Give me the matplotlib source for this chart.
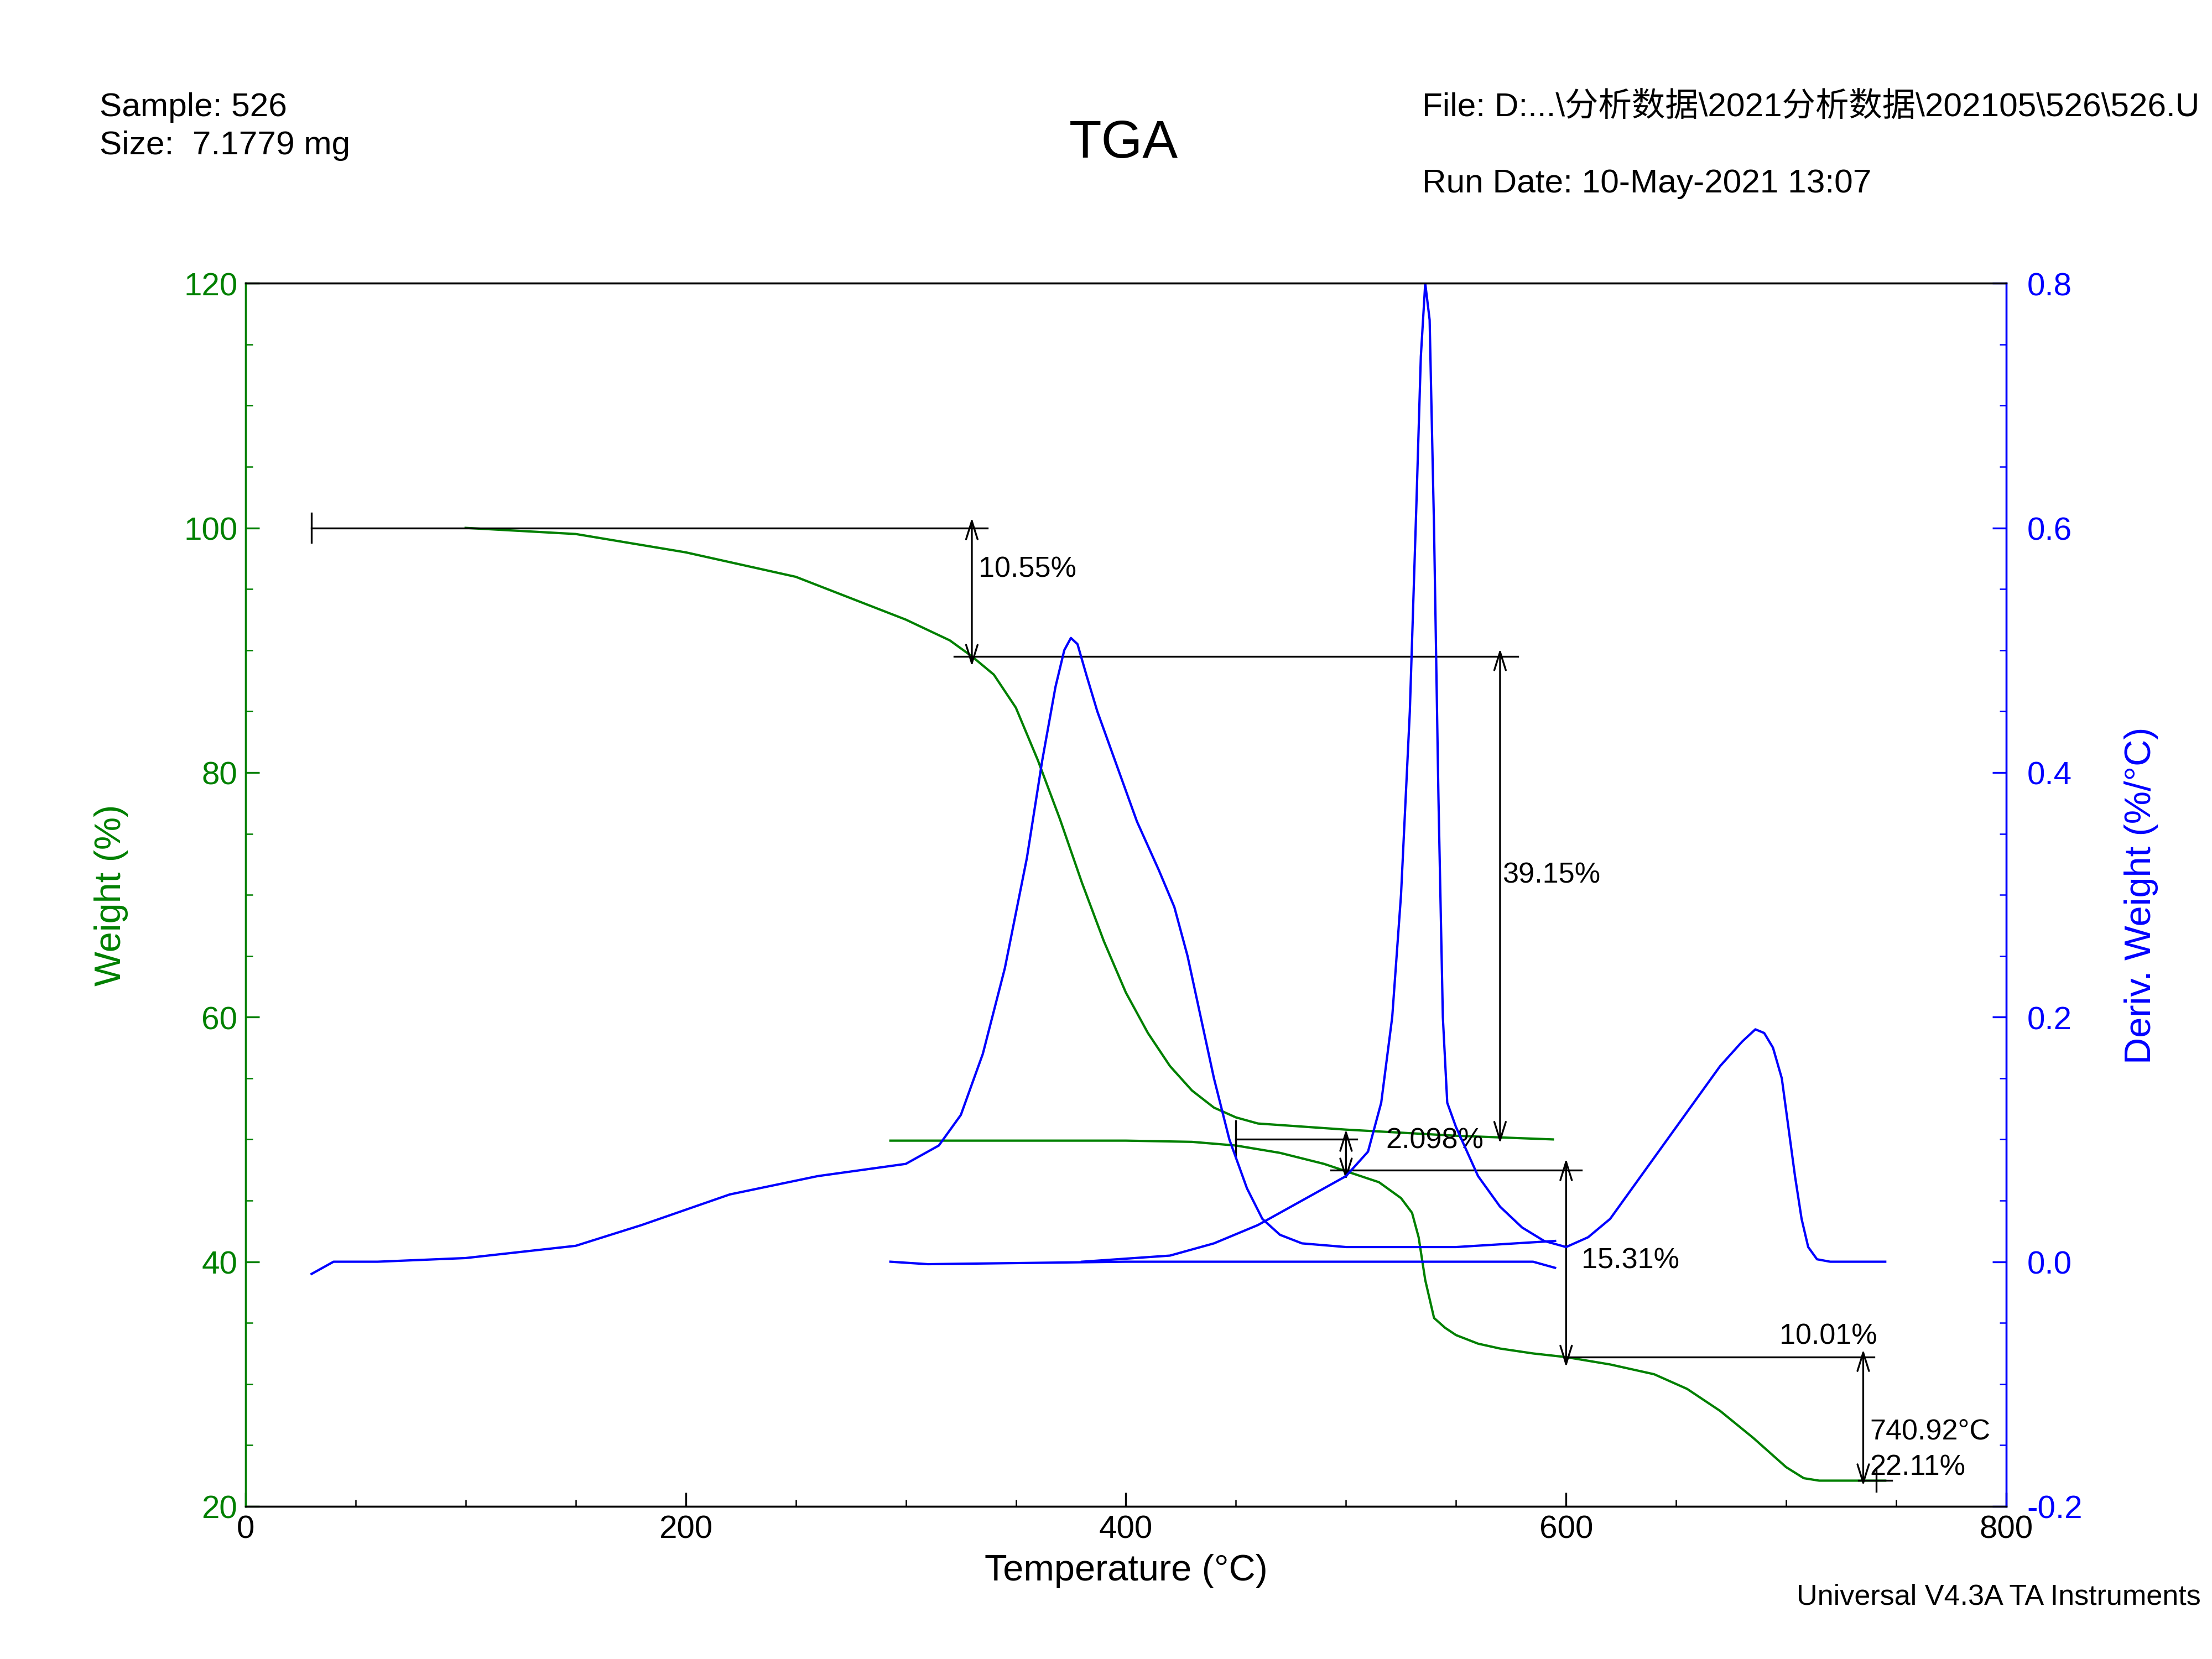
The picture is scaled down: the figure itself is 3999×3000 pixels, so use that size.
import matplotlib
matplotlib.use("Agg")
import matplotlib.pyplot as plt
from matplotlib.ticker import MultipleLocator

plt.rcParams['font.family'] = ['Liberation Sans', 'Noto Sans CJK SC', 'DejaVu Sans']

# Weight curve, run 1
w1_T = [100, 150, 200, 250, 300, 320, 330, 340, 350, 360, 370, 380, 390, 400, 410, 420, 430, 440, 450, 460, 500, 550, 594]
w1_W = [100, 99.5, 98, 96, 92.5, 90.8, 89.5, 88.0, 85.3, 81, 76.2, 71, 66.2, 62, 58.7, 56, 54, 52.6, 51.8, 51.3, 50.8, 50.3, 50]
# Weight curve, run 2
w2_T = [293, 400, 430, 450, 470, 490, 500, 515, 525, 530, 533, 536, 540, 545, 550, 560, 570, 585, 600, 620, 640, 655, 670, 685, 700, 708, 715, 745]
w2_W = [49.9, 49.9, 49.8, 49.5, 48.9, 48.0, 47.4, 46.5, 45.2, 44.0, 42.0, 38.5, 35.4, 34.6, 34.0, 33.3, 32.9, 32.5, 32.2, 31.6, 30.8, 29.6, 27.8, 25.6, 23.2, 22.3, 22.1, 22.1]
# Derivative curve, run 1
d1_T = [30, 35, 40, 60, 100, 150, 180, 220, 260, 300, 315, 325, 335, 345, 355, 362, 368, 372, 375, 378, 382, 387, 395, 405, 415, 422, 428, 434, 440, 447, 455, 462, 470, 480, 500, 550, 595]
d1_D = [-0.01, -0.005, 0, 0, 0.003, 0.013, 0.03, 0.055, 0.07, 0.08, 0.095, 0.12, 0.17, 0.24, 0.33, 0.41, 0.47, 0.5, 0.51, 0.505, 0.48, 0.45, 0.41, 0.36, 0.32, 0.29, 0.25, 0.2, 0.15, 0.1, 0.06, 0.035, 0.022, 0.015, 0.012, 0.012, 0.017]
# Derivative curve, run 2 (baseline)
d2_T = [293, 310, 400, 500, 585, 595]
d2_D = [0, -0.002, 0, 0, 0, -0.005]
# Derivative curve, run 2 (events)
d3_T = [380, 420, 440, 460, 480, 500, 510, 516, 521, 525, 529, 532, 534, 536, 538, 540, 542, 544, 546, 550, 560, 570, 580, 590, 600, 610, 620, 630, 650, 670, 680, 686, 690, 694, 698, 701, 704, 707, 710, 714, 720, 745]
d3_D = [0, 0.005, 0.015, 0.03, 0.05, 0.07, 0.09, 0.13, 0.2, 0.3, 0.45, 0.62, 0.74, 0.8, 0.77, 0.6, 0.38, 0.2, 0.13, 0.11, 0.07, 0.045, 0.028, 0.017, 0.012, 0.02, 0.035, 0.06, 0.11, 0.16, 0.18, 0.19, 0.187, 0.175, 0.15, 0.11, 0.07, 0.035, 0.012, 0.002, 0, 0]

fig = plt.figure(figsize=(13.33, 10.003), dpi=300)
ax = fig.add_axes([0.111, 0.092, 0.796, 0.737])
ax2 = ax.twinx()
G = '#008000'; B = '#0000ff'

ax.plot(w1_T, w1_W, color=G, lw=1)
ax.plot(w2_T, w2_W, color=G, lw=1)
ax2.plot(d1_T, d1_D, color=B, lw=1)
ax2.plot(d2_T, d2_D, color=B, lw=1)
ax2.plot(d3_T, d3_D, color=B, lw=1)

ax.set_xlim(0, 800); ax.set_ylim(20, 120); ax2.set_ylim(-0.2, 0.8)
ax.xaxis.set_major_locator(MultipleLocator(200)); ax.xaxis.set_minor_locator(MultipleLocator(50))
ax.yaxis.set_major_locator(MultipleLocator(20)); ax.yaxis.set_minor_locator(MultipleLocator(5))
ax2.yaxis.set_minor_locator(MultipleLocator(0.05))
ax2.set_yticks([-0.2, 0, 0.2, 0.4, 0.6, 0.8]); ax2.set_yticklabels(['-0.2', '0.0', '0.2', '0.4', '0.6', '0.8'])
for a in (ax, ax2):
    a.tick_params(which='both', direction='in', labelsize=14)
    a.tick_params(which='major', length=6); a.tick_params(which='minor', length=3)
ax.tick_params(axis='y', which='both', colors=G, labelcolor=G)
ax2.tick_params(axis='y', which='both', colors=B, labelcolor=B, pad=9)
ax2.spines['left'].set_color(G); ax2.spines['right'].set_color(B)
ax.spines['left'].set_color(G); ax.spines['right'].set_color(B)
ax.set_xlabel('Temperature (°C)', fontsize=16)
ax.set_ylabel('Weight (%)', fontsize=16, color=G, labelpad=24)
ax2.set_ylabel('Deriv. Weight (%/°C)', fontsize=16, color=B, labelpad=18)

k = dict(color='black', lw=0.8)
def harrow(x, y0, y1):
    ax.annotate('', xy=(x, y1), xytext=(x, y0), arrowprops=dict(arrowstyle='<->,head_width=0.25,head_length=0.8', lw=0.8, color='black'))
ax.plot([30, 337], [100, 100], **k); ax.plot([30, 30], [98.8, 101.2], **k)
harrow(330, 101.2, 88.3)
ax.text(333, 96, '10.55%', fontsize=12.5)
ax.plot([322, 578], [89.5, 89.5], **k)
harrow(570, 90.5, 49.3)
ax.text(571, 71, '39.15%', fontsize=12.5)
ax.plot([450, 505], [50, 50], **k); ax.plot([450, 450], [48.5, 51.5], **k)
harrow(500, 51.2, 46.3)
ax.text(518, 49.3, '2.098%', fontsize=12.5)
ax.plot([493, 607], [47.5, 47.5], **k)
harrow(600, 48.8, 31)
ax.text(607, 39.5, '15.31%', fontsize=12.5)
ax.plot([600, 740], [32.2, 32.2], **k)
harrow(735, 33.2, 21.3)
ax.text(697, 33.3, '10.01%', fontsize=12.5)
ax.text(738, 25.5, '740.92°C', fontsize=12.5)
ax.text(738, 22.6, '22.11%', fontsize=12.5)
ax.plot([733, 748], [22.1, 22.1], **k); ax.plot([741, 741], [21.2, 23], **k)

fig.text(0.045, 0.930, 'Sample: 526', fontsize=14.5)
fig.text(0.045, 0.907, 'Size:  7.1779 mg', fontsize=14.5)
fig.text(0.508, 0.905, 'TGA', fontsize=23, ha='center')
fig.text(0.643, 0.930, 'File: D:...\\分析数据\\2021分析数据\\202105\\526\\526.U', fontsize=14.5)
fig.text(0.643, 0.884, 'Run Date: 10-May-2021 13:07', fontsize=14.5)
fig.text(0.995, 0.033, 'Universal V4.3A TA Instruments', fontsize=12.5, ha='right')

fig.savefig('out.png', dpi=300)
